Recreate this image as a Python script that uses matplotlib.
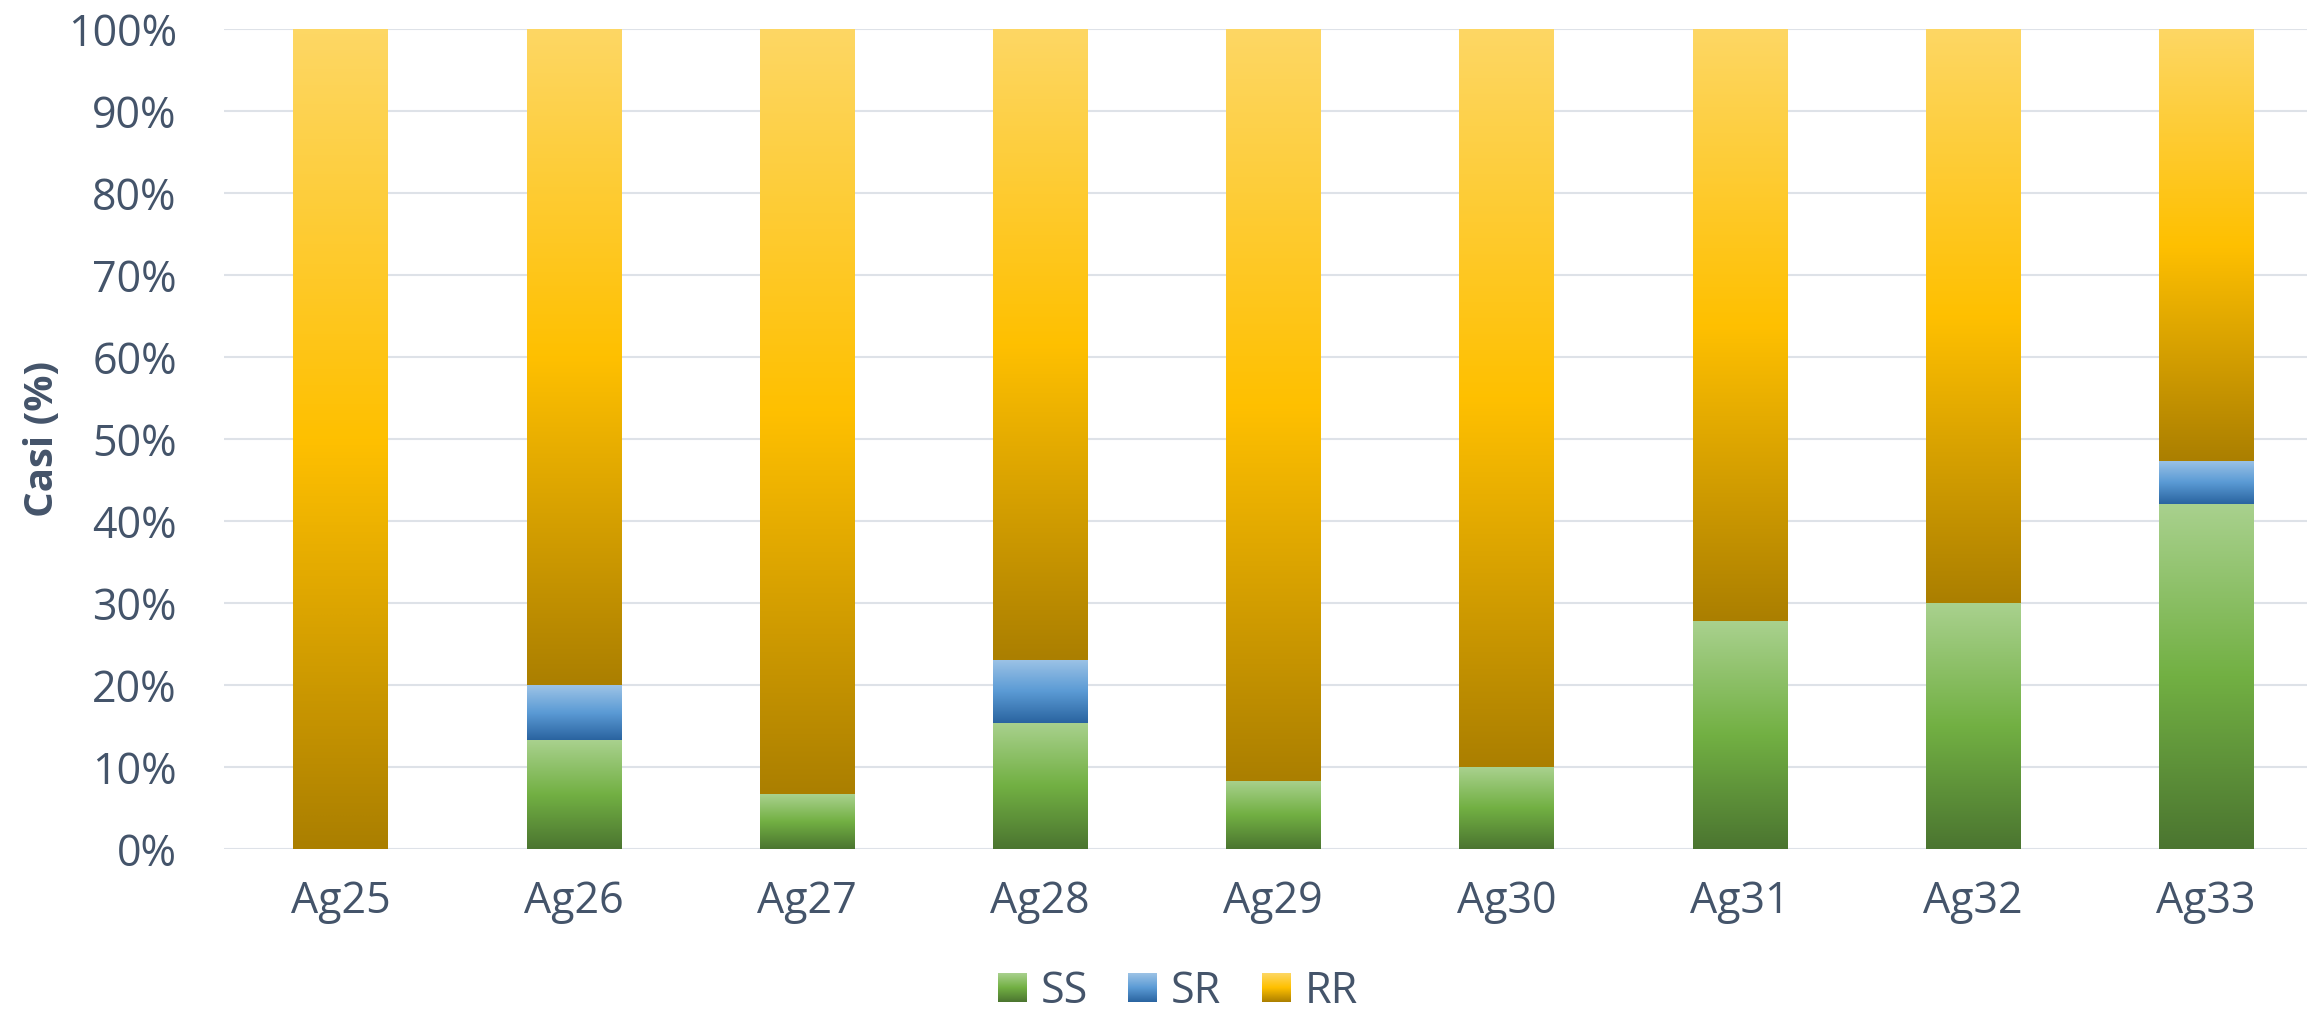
import numpy as np
import matplotlib
matplotlib.use("Agg")
import matplotlib.pyplot as plt
from matplotlib.colors import LinearSegmentedColormap
from matplotlib.patches import Patch
from matplotlib.legend_handler import HandlerBase
from matplotlib.image import BboxImage
from matplotlib.transforms import Bbox, TransformedBbox
from matplotlib.ticker import PercentFormatter

# ---- data (percent of cases per genotype) ----
categories = ["Ag25", "Ag26", "Ag27", "Ag28", "Ag29", "Ag30", "Ag31", "Ag32", "Ag33"]
series_names = ["SS", "SR", "RR"]
ss_values = [0.0, 13.3, 6.7, 15.4, 8.3, 10.0, 27.8, 30.0, 42.1]
sr_values = [0.0, 6.7, 0.0, 7.7, 0.0, 0.0, 0.0, 0.0, 5.3]
rr_values = [100.0, 80.0, 93.3, 76.9, 91.7, 90.0, 72.2, 70.0, 52.6]
y_ticks = [0, 10, 20, 30, 40, 50, 60, 70, 80, 90, 100]

# ---- style ----
TEXT = "#44546A"
GRID = "#DEE2E8"
# dark bottom -> base colour -> light top
gradients = {
    "SS": ["#4B7530", "#72B043", "#A9D18E"],
    "SR": ["#2A64A0", "#5B9BD5", "#9DC3E6"],
    "RR": ["#AB7F00", "#FFC000", "#FDD764"],
}
cmaps = {k: LinearSegmentedColormap.from_list(k, v) for k, v in gradients.items()}
ramp = np.linspace(0, 1, 256).reshape(-1, 1)

plt.rcParams["font.family"] = ["Open Sans", "DejaVu Sans"]

W, H = 2307, 1010
fig = plt.figure(figsize=(W / 100, H / 100), dpi=100)
ax_left, ax_right = 224, 2322.6
ax = fig.add_axes([ax_left / W, 161 / H, (ax_right - ax_left) / W, (849 - 29.5) / H])

x = np.arange(len(categories))
bar_w = 0.404
bottom = np.zeros(len(categories))
for name, vals in zip(series_names, [ss_values, sr_values, rr_values]):
    vals = np.asarray(vals)
    bars = ax.bar(x, vals, bar_w, bottom=bottom, color="none", linewidth=0, zorder=2)
    for rect, v in zip(bars, vals):
        if v <= 0:
            continue
        x0, y0 = rect.get_x(), rect.get_y()
        ax.imshow(ramp, cmap=cmaps[name], origin="lower", aspect="auto",
                  interpolation="bilinear", vmin=0, vmax=1,
                  extent=[x0, x0 + rect.get_width(), y0, y0 + rect.get_height()],
                  zorder=3)
    bottom = bottom + vals

ax.set_xlim(-0.5, len(categories) - 0.5)
ax.set_ylim(0, 100)
ax.set_xticks(x)
ax.set_xticklabels(categories)
ax.set_yticks(y_ticks)
ax.yaxis.set_major_formatter(PercentFormatter(decimals=0))
ax.grid(axis="y", color=GRID, linewidth=1.5, zorder=1)
ax.set_axisbelow(True)
for s in ax.spines.values():
    s.set_visible(False)
ax.tick_params(axis="both", length=0, labelsize=31, colors=TEXT)
ax.tick_params(axis="y", pad=34)
ax.tick_params(axis="x", pad=22)
ax.set_ylabel("Casi (%)", fontsize=29, fontweight="bold", color=TEXT)
ax.yaxis.set_label_coords((62 - ax_left) / (ax_right - ax_left), 0.5)


class GradientSquare(HandlerBase):
    def __init__(self, cmap):
        super().__init__()
        self.cmap = cmap

    def create_artists(self, legend, orig_handle, xdescent, ydescent,
                       width, height, fontsize, trans):
        s = height
        x0 = -xdescent + (width - s) / 2
        bb = TransformedBbox(Bbox.from_bounds(x0, -ydescent, s, s), trans)
        img = BboxImage(bb, cmap=self.cmap, interpolation="bilinear", origin="lower")
        img.set_data(ramp)
        img.set_clim(0, 1)
        return [img]


handles = [Patch(label=n) for n in series_names]
hmap = {h: GradientSquare(cmaps[n]) for h, n in zip(handles, series_names)}
leg = fig.legend(handles=handles, labels=series_names, handler_map=hmap,
                 loc="center", bbox_to_anchor=(1178 / W, 18 / H), ncol=3,
                 frameon=False, fontsize=31, handlelength=0.63, handleheight=0.63,
                 handletextpad=0.35, columnspacing=0.95, borderpad=0, borderaxespad=0)
for t in leg.get_texts():
    t.set_color(TEXT)

fig.savefig("out.png", dpi=100, facecolor="white")
